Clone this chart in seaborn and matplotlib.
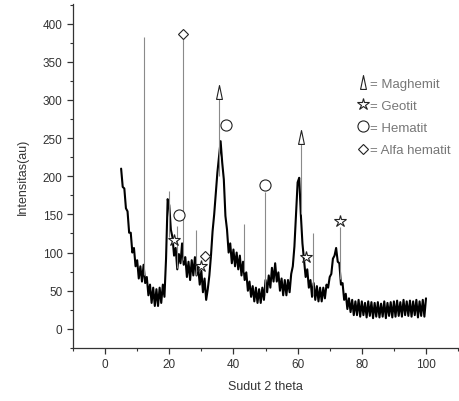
import matplotlib
matplotlib.use("Agg")
import numpy as np
import pandas as pd
import matplotlib.pyplot as plt
from matplotlib.lines import Line2D
from matplotlib.ticker import MultipleLocator
import seaborn as sns

# ─── Data ─────────────────────────────────────────────────────────────────────
TWO_THETA_START = 5.0
TWO_THETA_STEP  = 0.5

intensity = [
    210, 186, 184, 158, 154, 126, 126, 100, 106, 82,    # 5.0 - 9.5
    90, 66, 82, 62, 84, 60, 68, 44, 58, 34,             # 10.0 - 14.5
    54, 30, 52, 30, 54, 34, 58, 42, 92, 170,            # 15.0 - 19.5
    162, 130, 120, 96, 106, 78, 98, 86, 112, 84,        # 20.0 - 24.5
    94, 68, 88, 64, 90, 70, 94, 70, 82, 58,             # 25.0 - 29.5
    76, 48, 66, 38, 52, 70, 96, 128, 150, 178,          # 30.0 - 34.5
    205, 225, 246, 218, 196, 148, 130, 100, 112, 86,    # 35.0 - 39.5
    104, 82, 100, 78, 96, 70, 88, 64, 74, 50,           # 40.0 - 44.5
    62, 42, 56, 36, 54, 34, 52, 34, 54, 38,             # 45.0 - 49.5
    64, 48, 70, 54, 80, 62, 86, 62, 74, 50,             # 50.0 - 54.5
    66, 44, 64, 44, 64, 48, 72, 82, 108, 150,           # 55.0 - 59.5
    192, 198, 150, 112, 90, 68, 78, 54, 64, 42,         # 60.0 - 64.5
    60, 38, 56, 36, 54, 36, 54, 40, 58, 54,             # 65.0 - 69.5
    68, 72, 92, 96, 106, 88, 86, 58, 60, 38,            # 70.0 - 74.5
    46, 26, 40, 22, 38, 18, 36, 18, 38, 16,             # 75.0 - 79.5
    36, 18, 34, 15, 36, 17, 35, 14, 34, 16,             # 80.0 - 84.5
    35, 15, 33, 16, 36, 14, 34, 17, 35, 15,             # 85.0 - 89.5
    36, 16, 37, 17, 35, 16, 38, 18, 36, 17,             # 90.0 - 94.5
    37, 16, 36, 18, 38, 15, 36, 17, 38, 16,             # 95.0 - 99.5
    40,                                                 # 100.0
]

# sharp single-point reflections (thin grey lines)
spike_x    = [12.0, 19.8, 22.4, 24.2, 28.3, 35.6, 43.2, 49.9, 60.9, 64.7, 73.1]
spike_base = [70, 120, 80, 90, 70, 200, 75, 45, 150, 45, 66]
spike_top  = [383, 181, 135, 382, 129, 304, 138, 180, 244, 125, 134]

# phase markers
maghemit_x = [35.6, 60.9]
maghemit_y = [311, 252]
geotit_x   = [21.6, 29.9, 62.7, 73.1]
geotit_y   = [117, 82, 94, 141]
hematit_x  = [23.1, 37.7, 49.9]
hematit_y  = [149, 267, 188]
alfa_x     = [24.2, 31.0]
alfa_y     = [387, 96]

legend_labels = ["= Maghemit", "= Geotit", "= Hematit", "= Alfa hematit"]

df = pd.DataFrame({
    "two_theta": TWO_THETA_START + TWO_THETA_STEP * np.arange(len(intensity)),
    "intensity": intensity,
})

# ─── Style ────────────────────────────────────────────────────────────────────
sns.set_style("ticks")
plt.rcParams["font.family"] = ["Liberation Sans", "DejaVu Sans"]

fig = plt.figure(figsize=(4.59, 4.02), dpi=100)
ax = fig.add_axes([0.159, 0.132, 0.839, 0.856])

sns.lineplot(data=df, x="two_theta", y="intensity", ax=ax,
             color="black", linewidth=1.5, estimator=None, sort=False)

ax.vlines(spike_x, spike_base, spike_top, color="#8a8a8a", linewidth=0.8)

tri = [(-0.42, -1), (0.42, -1), (0, 1), (-0.42, -1)]
mk = dict(linestyle="none", markerfacecolor="white", markeredgecolor="#222222",
          markeredgewidth=0.8)
ax.plot(maghemit_x, maghemit_y, marker=tri, markersize=10, **mk)
ax.plot(geotit_x, geotit_y, marker="*", markersize=9, **mk)
ax.plot(hematit_x, hematit_y, marker="o", markersize=8, **mk)
ax.plot(alfa_x, alfa_y, marker="D", markersize=5.5, **mk)

handles = [
    Line2D([], [], marker=tri, markersize=10, **mk),
    Line2D([], [], marker="*", markersize=9, **mk),
    Line2D([], [], marker="o", markersize=8, **mk),
    Line2D([], [], marker="D", markersize=5.5, **mk),
]
leg = ax.legend(handles, legend_labels, loc="upper left",
                bbox_to_anchor=(0.72, 0.805), frameon=False, borderpad=0,
                handlelength=0.9, handletextpad=0.1, labelspacing=0.75,
                fontsize=9.5, labelcolor="#777777")

ax.set_xlim(-10, 110)
ax.set_ylim(-25, 426)
ax.xaxis.set_major_locator(MultipleLocator(20))
ax.xaxis.set_minor_locator(MultipleLocator(10))
ax.yaxis.set_major_locator(MultipleLocator(50))
ax.yaxis.set_minor_locator(MultipleLocator(25))
ax.tick_params(which="major", direction="out", length=4, width=0.9,
               labelsize=8.5, labelcolor="#333333", color="#333333")
ax.tick_params(which="minor", direction="out", length=2.5, width=0.8,
               color="#333333")

ax.set_xlabel("Sudut 2 theta", fontsize=9, color="#333333", labelpad=7)
ax.set_ylabel("Intensitas(au)", fontsize=9, color="#333333", labelpad=10)

sns.despine(ax=ax)
for s in ["left", "bottom"]:
    ax.spines[s].set_color("#333333")
    ax.spines[s].set_linewidth(0.9)

fig.savefig("out.png", dpi=100)
